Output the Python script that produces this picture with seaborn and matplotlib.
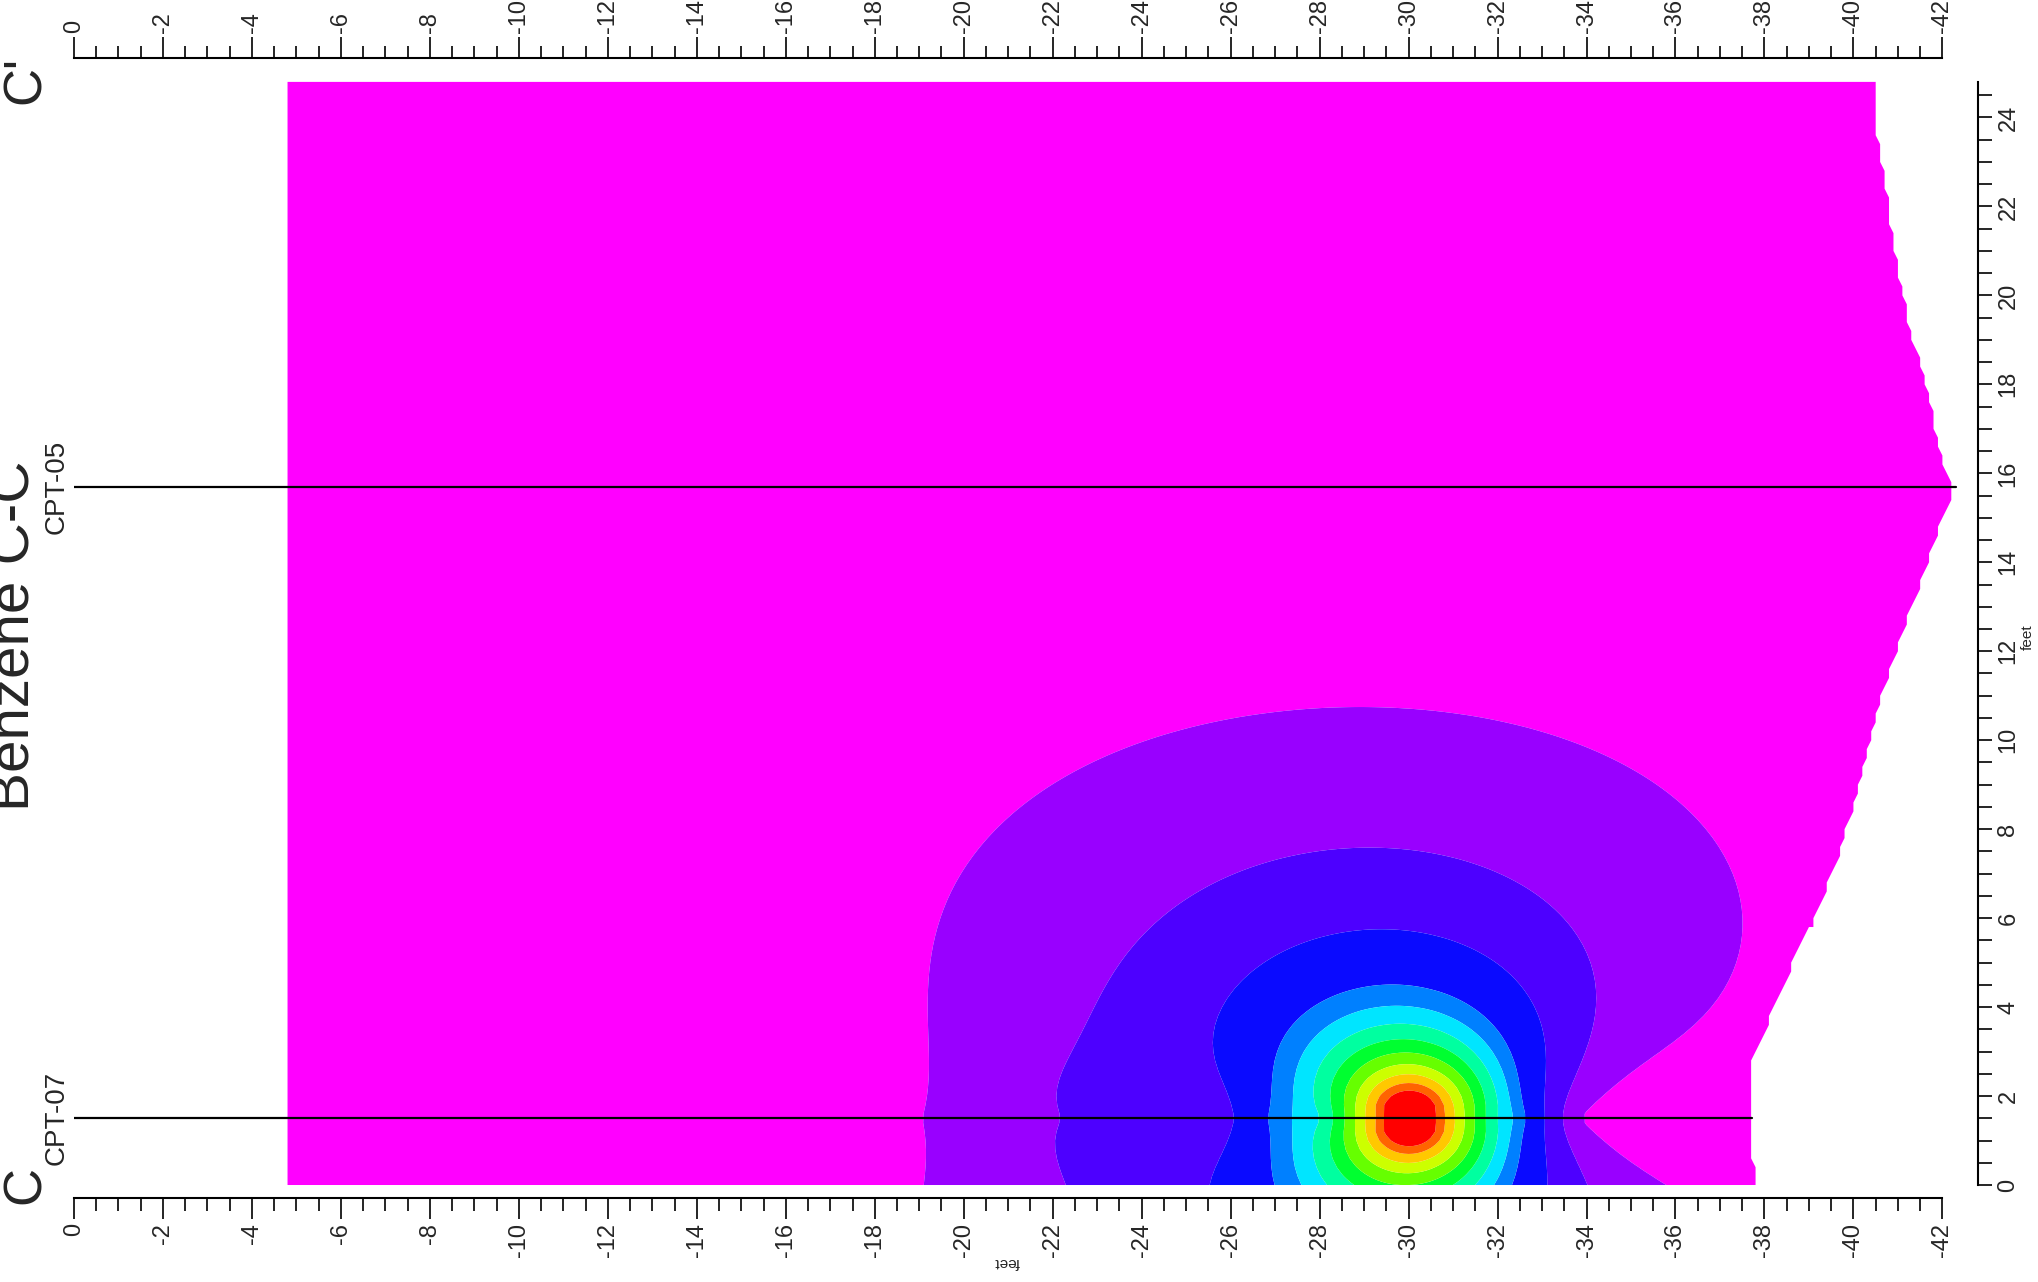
import numpy as np
import matplotlib
matplotlib.use("Agg")
import matplotlib.pyplot as plt
from matplotlib.ticker import FixedLocator
import seaborn as sns

# ---- boring logs: benzene, log10(ug/L) ----
cpt07_dist = 1.5
cpt07_depth = np.arange(-5.0, -37.6, -0.5)          # 0.5 ft log interval
cpt07_logc = [0.0] * 26 + [
    0.20, 0.34, 0.45, 0.53, 0.62, 0.71, 0.80, 0.88, 0.95, 1.10,
    1.40, 1.45, 1.25, 1.02, 1.05, 1.20, 1.45, 1.78, 2.10, 2.30,
    2.48, 2.92, 3.48, 3.98, 5.60, 4.10, 3.55, 2.98, 2.49, 2.15,
    1.58, 0.96, 0.36, 0.25, 0.15, 0.10, 0.10, 0.15, 0.25, 0.33]

cpt05_dist = 15.7
cpt05_depth = np.arange(-5.0, -42.1, -1.0)
cpt05_logc = [0.0] * 38

# ---- extent of the section ----
top_depth = -4.8
section_length = 24.8
bottom_dist = [0.0, 0.5, 0.7, 2.8, 3.6, 4.4, 5.3, 5.8, 6.2, 7.65, 9.1, 10.6,
               12.0, 13.5, 14.95, 15.7, 16.4, 17.9, 19.3, 20.8, 22.2, 23.7, 24.8]
bottom_depth = [-37.85, -37.85, -37.7, -37.75, -38.1, -38.45, -38.8, -39.1,
                -39.25, -39.8, -40.2, -40.55, -41.0, -41.55, -42.05, -42.3,
                -42.0, -41.7, -41.3, -41.0, -40.8, -40.55, -40.5]

# ---- contour classes (ug/L) and fills ----
levels_ugL = [2.9, 10, 31.6, 100, 178, 316, 562, 1000, 1780, 3160, 5620, 10000]
band_colors = ['#FF00FF', '#9900FF', '#4D00FF', '#0A0AFF', '#0080FF', '#00E5FF',
               '#00FFA0', '#00FF30', '#66FF00', '#CCFF00', '#FFC800', '#FF6400',
               '#FF0000']

borings = [("CPT-07", cpt07_dist), ("CPT-05", cpt05_dist)]

# ---- simple kriging (background mean), exponential covariance ----
ANISO = 0.70        # horizontal stretch of the covariance
CORR_LEN = 10.0     # ft
BACKGROUND = 0.0

sd = np.concatenate([cpt07_depth, cpt05_depth])
sx = np.concatenate([np.full(len(cpt07_depth), cpt07_dist),
                     np.full(len(cpt05_depth), cpt05_dist)])
sv = np.array(list(cpt07_logc) + list(cpt05_logc), dtype=float)


def cov(d1, x1, d2, x2):
    h = np.hypot(d1[:, None] - d2[None, :], (x1[:, None] - x2[None, :]) / ANISO)
    return np.exp(-h / CORR_LEN)


K = cov(sd, sx, sd, sx) + 1e-10 * np.eye(len(sd))
w = np.linalg.solve(K, sv - BACKGROUND)

gd = np.arange(top_depth, -42.5, -0.1)
gx = np.arange(0.0, section_length + 0.01, 0.2)
GD, GX = np.meshgrid(gd, gx)
field = BACKGROUND + cov(GD.ravel(), GX.ravel(), sd, sx) @ w
field = field.reshape(GD.shape)

floor = np.interp(GX, bottom_dist, bottom_depth)
field = np.ma.masked_where(GD < floor, field)

# ---- figure ----
sns.set_theme(style="white")
plt.rcParams['font.family'] = ['Liberation Sans', 'DejaVu Sans']
plt.rcParams['axes.unicode_minus'] = False

W, H = 2038, 1282
fig = plt.figure(figsize=(W / 100, H / 100), dpi=100)
x0, x1 = 74, 1978
y0, y1 = 58, 1198
ax = fig.add_axes([x0 / W, 1 - y1 / H, (x1 - x0) / W, (y1 - y0) / H])
ax.set_facecolor('white')

lv = [-20.0] + list(np.log10(levels_ugL)) + [20.0]
ax.contourf(GD, GX, field, levels=lv, colors=band_colors, antialiased=True)

for name, dist in borings:
    end = np.interp(dist, bottom_dist, bottom_depth)
    sns.lineplot(x=[0.0, end], y=[dist, dist], color='black', lw=1.6, ax=ax,
                 sort=False, estimator=None)
    ax.text(0.4, dist, name, rotation=90, ha='center', va='center',
            fontsize=20, clip_on=False)

ax.set_xlim(0, -42.8)
ax.set_ylim(-0.292, 25.337)

ax.spines['left'].set_visible(False)
for s in ['bottom', 'top', 'right']:
    ax.spines[s].set_color('black')
    ax.spines[s].set_linewidth(1.5)
ax.spines['bottom'].set_bounds(-42, 0)
ax.spines['top'].set_bounds(-42, 0)
ax.spines['right'].set_bounds(0, 24.8)

ax.set_xticks(np.arange(0, -43, -2))
ax.set_xticklabels([str(v) for v in range(0, -43, -2)])
ax.xaxis.set_minor_locator(FixedLocator(np.arange(0, -42.01, -0.5)))
ax.tick_params(axis='x', which='both', bottom=True, top=True, labelbottom=True,
               labeltop=True, direction='out', color='black', width=1.2)
ax.tick_params(axis='x', which='major', length=15, labelsize=17, pad=3,
               labelrotation=90)
ax.tick_params(axis='x', which='minor', length=9)

ax.yaxis.tick_right()
ax.set_yticks(np.arange(0, 25, 2))
ax.set_yticklabels([str(v) for v in range(0, 25, 2)])
ax.yaxis.set_minor_locator(FixedLocator(np.arange(0, 24.51, 0.5)))
ax.tick_params(axis='y', which='both', left=False, right=True, labelleft=False,
               labelright=True, direction='out', color='black', width=1.2,
               length=10)
ax.tick_params(axis='y', which='major', labelsize=17, pad=4, labelrotation=90)
for lab in ax.get_yticklabels():
    lab.set_va('center')
ax.set_xlabel('')
ax.set_ylabel('')


def ftext(px, py, s, **kw):
    fig.text(px / W, 1 - py / H, s, **kw)


ftext(1007, 1262, 'feet', fontsize=11, rotation=180, ha='center', va='center')
ftext(2028, 637, 'feet', fontsize=11, rotation=90, ha='center', va='center')
ftext(26, 1185, 'C', fontsize=38, rotation=90, ha='center', va='center')
ftext(26, 80, "C'", fontsize=38, rotation=90, ha='center', va='center')
ftext(15, 630, "Benzene C-C'", fontsize=42, rotation=90, ha='center',
      va='center')

fig.savefig('out.png', dpi=100)
